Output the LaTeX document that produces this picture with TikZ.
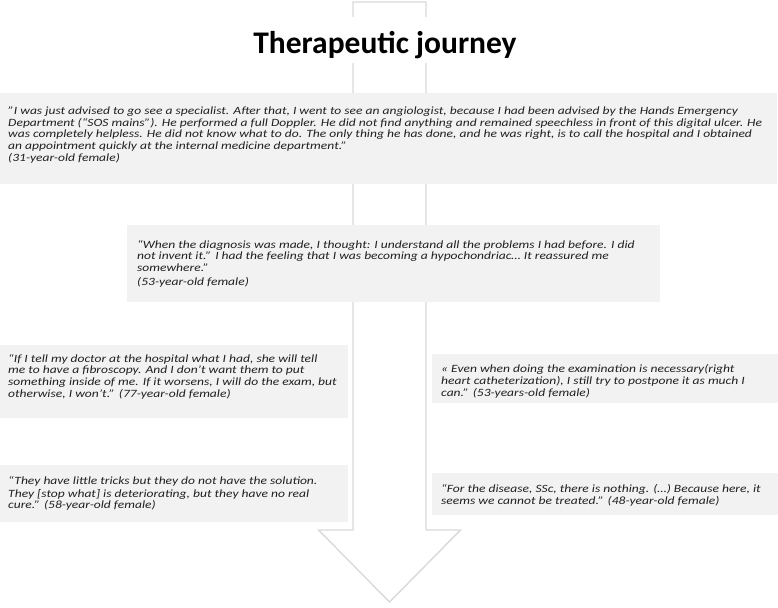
\documentclass[tikz,border=0pt]{standalone}
\usepackage{fontspec}
\setmainfont{Carlito}
\newfontfamily\quotefont[FakeStretch=1.22]{Carlito}
\begin{document}
\begin{tikzpicture}[x=1pt,y=-1pt,
  quotebox/.style={fill=boxgray,draw=none},
  quotetext/.style={anchor=north west,inner sep=0pt,align=left,
    font=\quotefont\fontsize{11.1}{11.7}\selectfont\itshape,text=txtgray},
  arrowline/.style={draw=arrowgray,line width=1.4pt,fill=white,line join=miter}]
\definecolor{boxgray}{HTML}{F2F2F2}
\definecolor{arrowgray}{HTML}{D9D9D9}
\definecolor{txtgray}{HTML}{202020}
\useasboundingbox (0,0) rectangle (778,607);
% big arrow
\draw[arrowline] (353,2) -- (426,2) -- (426,530) -- (460.5,530) -- (389.5,602)
  -- (318.5,530) -- (353,530) -- cycle;
% title
\node[fill=white,inner sep=0pt,minimum width=80pt,minimum height=46pt] (tbg) at (389.5,40) {};
\node[font=\fontsize{31.5}{34}\selectfont\bfseries,anchor=base,inner sep=0pt] (title) at (385,54) {Therapeutic journey};
% boxes
\fill[quotebox] (0,93) rectangle (777,184);
\node[quotetext] (q1) at (8,106.5) {”I was just advised to go see a specialist. After that, I went to see an angiologist, because I had been advised by the Hands Emergency\\
Department (“SOS mains”). He performed a full Doppler. He did not find anything and remained speechless in front of this digital ulcer. He\\
was completely helpless. He did not know what to do. The only thing he has done, and he was right, is to call the hospital and I obtained\\
an appointment quickly at the internal medicine department.”\\
(31-year-old female)};
\fill[quotebox] (127,225) rectangle (660,302);
\node[quotetext] (q2) at (137,240) {“When the diagnosis was made, I thought: I understand all the problems I had before. I did\\
not invent it.” I had the feeling that I was becoming a hypochondriac… It reassured me\\
somewhere.”\\[2.5pt]
(53-year-old female)};
\fill[quotebox] (0,345) rectangle (348,418);
\node[quotetext] (q3) at (8,354) {“If I tell my doctor at the hospital what I had, she will tell\\
me to have a fibroscopy. And I don’t want them to put\\
something inside of me. If it worsens, I will do the exam, but\\
otherwise, I won’t.” (77-year-old female)};
\fill[quotebox] (432,354) rectangle (778,403);
\node[quotetext] (q4) at (441,364.5) {« Even when doing the examination is necessary(right\\
heart catheterization), I still try to postpone it as much I\\
can.” (53-years-old female)};
\fill[quotebox] (0,465) rectangle (348,522);
\node[quotetext] (q5) at (8,476.5) {“They have little tricks but they do not have the solution.\\[0.8pt]
They [stop what] is deteriorating, but they have no real\\
cure.” (58-year-old female)};
\fill[quotebox] (432,473) rectangle (778,515);
\node[quotetext] (q6) at (441,484) {“For the disease, SSc, there is nothing. (…) Because here, it\\
seems we cannot be treated.” (48-year-old female)};
\end{tikzpicture}
\end{document}
